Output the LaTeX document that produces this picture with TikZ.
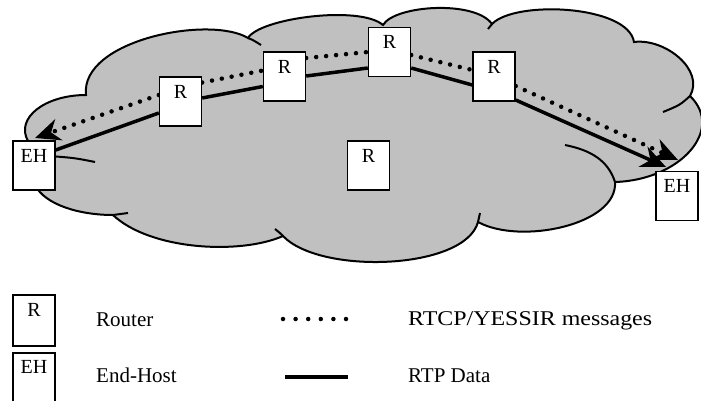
\documentclass[tikz,border=0pt]{standalone}
\usepackage{fontspec}
\setmainfont{Liberation Serif}
\usetikzlibrary{arrows.meta}
\pgfdeclarelayer{cloudlayer}
\pgfdeclarelayer{linelayer}
\pgfsetlayers{cloudlayer,linelayer,main}
\definecolor{cloudgray}{HTML}{C0C0C0}
\begin{document}
\begin{tikzpicture}[x=1pt,y=-1pt,
  box/.style={draw, fill=white, line width=1.4pt, minimum width=42pt, inner sep=0pt,
    text height=21pt, text depth=28pt, font=\fontsize{20}{20}\selectfont},
  rtp/.style={line width=3.5pt},
  rtcp/.style={line width=4.5pt, dash pattern=on 0pt off 10pt, line cap=round},
  arrowhd/.style={-{Stealth[length=25pt,width=22pt,inset=8pt]}},
  legendtext/.style={anchor=base west, inner sep=0pt, font=\fontsize{21}{21}\selectfont},
  cloudline/.style={line width=2pt}]
\useasboundingbox (0,0) rectangle (701,400);

% nodes
\node[box] (EHL) at (34,165.5) {EH};
\node[box] (R1) at (180.5,101.5) {R};
\node[box] (R2) at (284.5,76.5) {R};
\node[box] (R3) at (389.5,52) {R};
\node[box] (R4) at (494,76.5) {R};
\node[box] (RC) at (368.5,165.5) {R};
\node[box] (EHR) at (677,196) {EH};
\coordinate (tipL) at (35,138);
\coordinate (tipRs) at (666,167);
\coordinate (tipRd) at (678,160);

% cloud
\begin{pgfonlayer}{cloudlayer}
\filldraw[cloudline, fill=cloudgray] (28,141)
  .. controls (15,118) and (45,95) .. (86,95)
  .. controls (80,40) and (210,15) .. (248,38)
  .. controls (260,18) and (360,5) .. (383,25)
  .. controls (395,5) and (475,0) .. (492,24)
  .. controls (515,0) and (628,5) .. (634,42)
  .. controls (665,38) and (705,70) .. (690,96)
  .. controls (725,130) and (680,180) .. (615,182)
  .. controls (618,225) and (520,245) .. (478,222)
  .. controls (465,270) and (320,275) .. (283,236)
  .. controls (240,255) and (150,250) .. (113,215)
  .. controls (80,215) and (45,205) .. (35,185)
  -- cycle;
\draw[cloudline] (50,156) .. controls (75,158) .. (95,162);
\draw[cloudline] (113,215) .. controls (120,214) .. (128,213);
\draw[cloudline] (248,38) .. controls (253,40) .. (261,45);
\draw[cloudline] (492,24) .. controls (490,26) .. (488,29);
\draw[cloudline] (690,96) .. controls (680,105) .. (663,112);
\draw[cloudline] (615,182) .. controls (608,160) and (590,150) .. (565,145);
\draw[cloudline] (478,222) .. controls (479,218) .. (480,213);
\draw[cloudline] (283,236) .. controls (280,233) .. (275,229);
\end{pgfonlayer}

% connectors
\begin{pgfonlayer}{linelayer}
\draw[rtp] ([yshift=15.5pt]EHL.east) -- ([yshift=-11.5pt]R1.west);
\draw[rtp] ([yshift=3.5pt]R1.east) -- ([yshift=-10pt]R2.west);
\draw[rtp] ([yshift=0.5pt]R2.east) -- ([yshift=-16pt]R3.west);
\draw[rtp] ([yshift=-16pt]R3.east) -- ([yshift=-8.5pt]R4.west);
\draw[rtp,arrowhd] ([yshift=-23.5pt]R4.east) -- (tipRs);
\draw[rtcp,arrowhd] ([yshift=6.5pt]R1.west) -- (tipL);
\draw[rtcp] ([yshift=19pt]R1.east) -- ([yshift=6pt]R2.west);
\draw[rtcp] ([yshift=18.5pt]R2.east) -- ([yshift=0pt]R3.west);
\draw[rtcp] ([yshift=-3pt]R3.east) -- ([yshift=6.5pt]R4.west);
\draw[rtcp,arrowhd] ([yshift=-9.5pt]R4.east) -- (tipRd);
\end{pgfonlayer}

% legend
\node[box, text height=21.7pt, text depth=29.3pt] (LR) at (34,320.5) {R};
\node[box, text height=20pt, text depth=31pt] (LEH) at (34,378.5) {EH};
\node[legendtext] (tRouter) at (96,326.7) {Router};
\node[legendtext] (tHost) at (96,382) {End-Host};
\node[legendtext, xscale=1.14] (tRtcp) at (408,325) {RTCP/YESSIR messages};
\node[legendtext] (tRtp) at (408,382) {RTP Data};
\draw[rtcp, line width=4.5pt, dash pattern=on 0pt off 12.6pt] (283,319) -- (346.2,319);
\draw[line width=4.5pt] (285,377) -- (348,377);
\end{tikzpicture}
\end{document}
